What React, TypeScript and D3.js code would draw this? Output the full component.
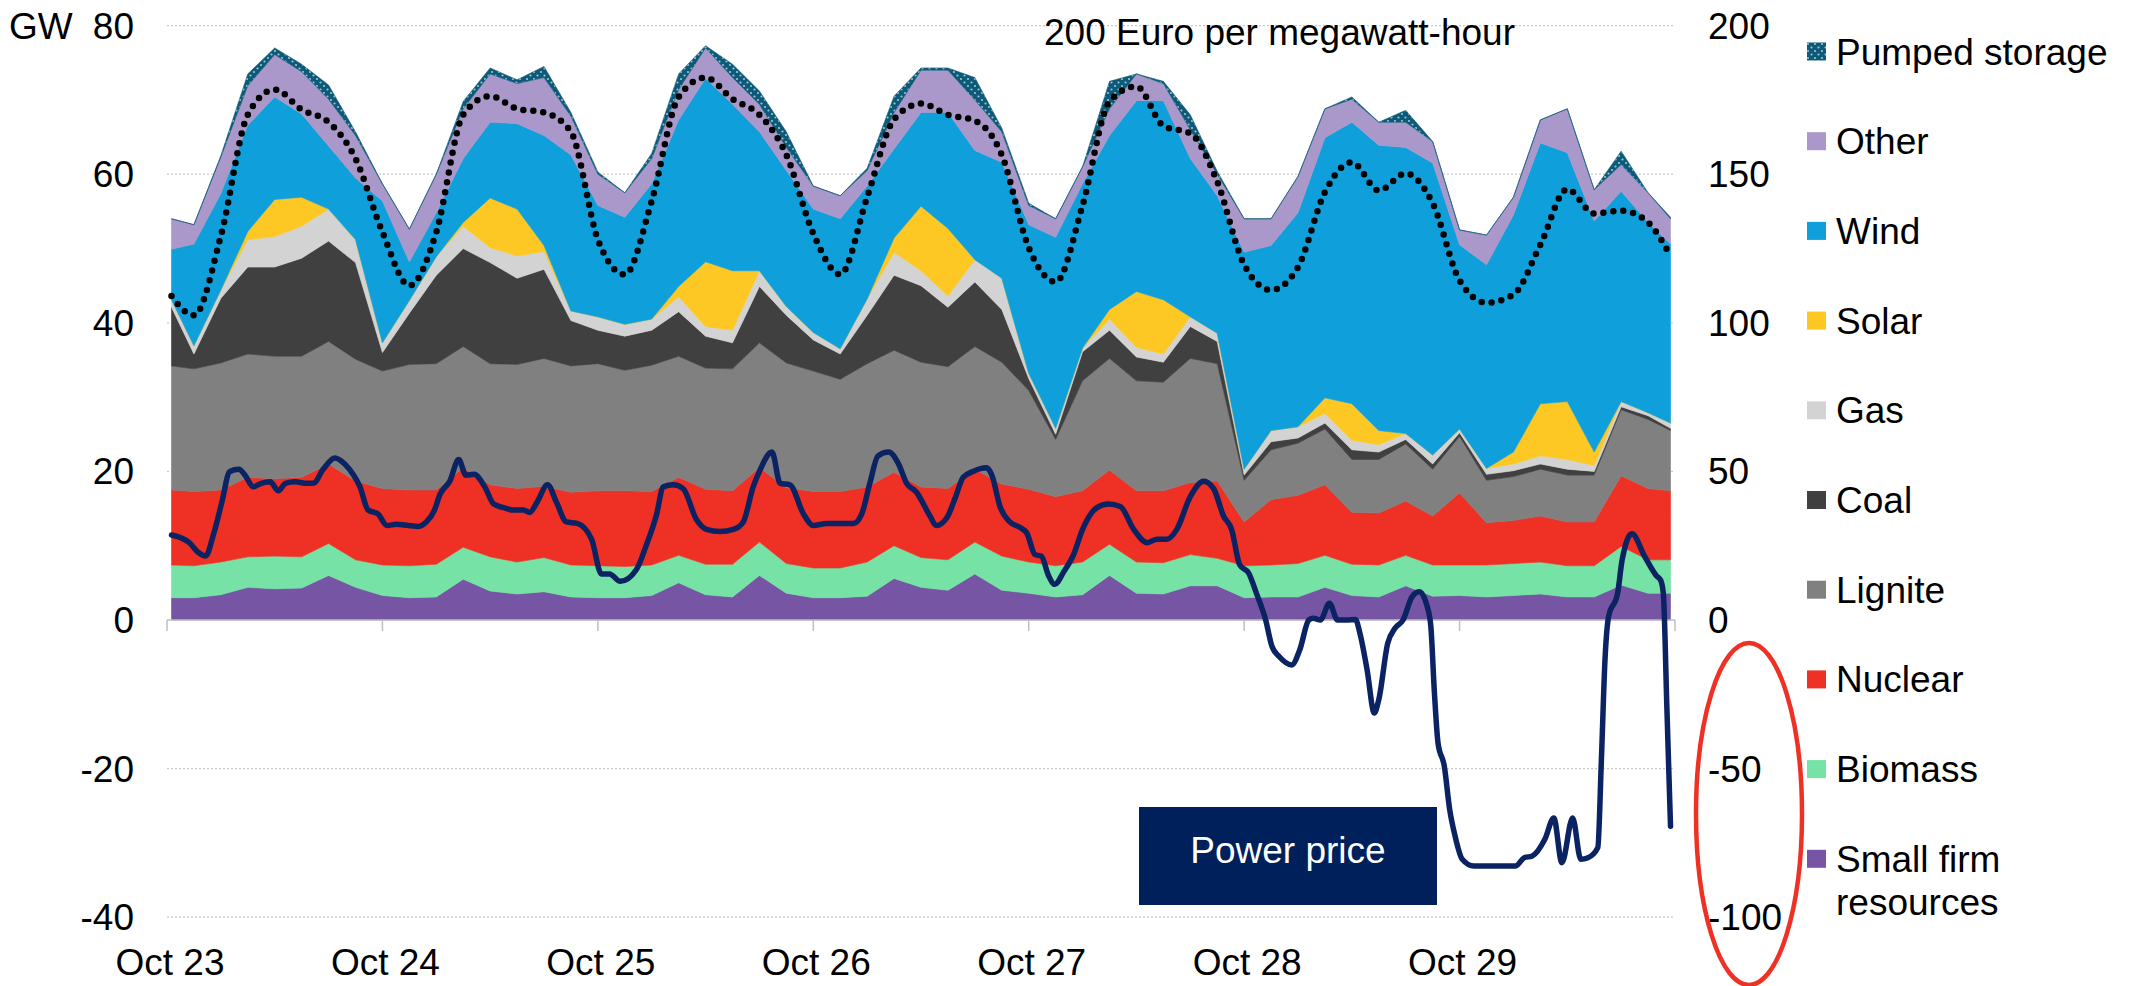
import React from 'react';
import * as d3 from 'd3';

// hours since Oct 23 00:00
const hours = [0.5,3,6,9,12,15,18,21,24,27,30,33,36,39,42,45,48,51,54,57,60,63,66,69,72,75,78,81,84,87,90,93,96,99,102,105,108,111,114,117,120,123,126,129,132,135,138,141,144,147,150,153,156,159,162,165,167.5];

const smallFirm = [3.0,3.0,3.4,4.4,4.2,4.3,6.0,4.4,3.3,3.0,3.1,5.5,3.9,3.5,3.8,3.1,3.0,3.0,3.3,5.0,3.4,3.1,6.0,3.6,3.0,3.0,3.2,5.6,4.4,4.0,6.2,4.0,3.6,3.1,3.4,6.0,3.6,3.5,4.6,4.6,3.0,3.1,3.1,4.4,3.3,3.1,4.6,3.2,3.3,3.1,3.3,3.5,3.1,3.1,4.7,3.6,3.6];
const biomass = [4.4,4.3,4.4,4.1,4.4,4.2,4.3,3.7,4.1,4.3,4.4,4.3,4.6,4.3,4.6,4.3,4.3,4.2,4.1,3.7,4.1,4.4,4.5,4.0,4.0,4.0,4.6,4.4,4.0,4.1,4.3,4.6,4.2,4.2,4.4,4.2,4.2,4.2,4.2,3.7,4.3,4.3,4.5,4.3,4.2,4.3,4.1,4.2,4.1,4.3,4.3,4.3,4.2,4.2,5.2,4.5,4.5];
const nuclear = [10.1,10.0,9.7,10.7,10.4,10.7,10.7,10.6,10.3,10.2,10.0,10.7,9.7,9.9,9.6,9.8,10.1,10.2,9.9,10.5,10.1,9.9,10.0,10.2,10.3,10.3,10.1,9.9,9.5,9.6,9.8,9.7,9.8,9.3,9.6,10.0,9.6,9.7,9.7,10.4,5.9,8.8,9.2,9.5,7.0,7.0,7.3,6.6,9.7,5.7,5.8,6.2,5.9,5.9,9.5,9.6,9.3];
const lignite = [16.7,16.5,17.1,16.6,16.5,16.3,16.5,16.4,15.8,16.9,17.0,16.3,16.3,16.7,17.2,17.0,17.1,16.2,17.0,16.3,16.3,16.4,16.8,16.8,16.2,15.1,16.6,16.4,16.8,16.4,16.5,16.4,13.3,7.7,14.8,15.0,14.8,14.6,16.7,15.8,5.6,6.7,7.0,7.5,7.1,7.2,7.7,6.3,7.6,5.7,5.9,6.3,6.3,6.3,8.9,9.3,8.1];
const coal = [7.9,2.0,8.7,11.7,12.0,13.2,13.5,13.0,2.5,6.9,11.9,13.2,13.6,11.6,12.0,6.1,4.5,4.6,4.7,6.0,4.3,3.5,7.6,6.4,4.2,3.4,6.5,10.1,10.3,8.0,8.7,7.1,1.6,0.7,3.9,3.8,3.2,2.7,4.3,3.0,0.7,1.1,0.7,0.8,1.3,1.0,0.6,0.7,0.5,0.8,0.8,0.7,0.8,0.5,0.4,0.5,0.3];
const gas = [1.0,1.1,1.1,3.7,4.1,4.3,4.3,3.1,1.3,1.7,2.5,3.0,2.0,3.0,2.4,1.3,1.8,1.6,1.5,2.0,1.3,1.7,2.1,1.2,1.0,0.7,2.2,3.1,2.0,1.5,3.0,4.2,0.7,0.8,0.5,1.5,1.3,1.1,1.3,1.1,0.8,1.5,1.5,1.3,1.3,1.0,0.8,1.2,0.5,0.8,0.9,1.1,1.3,0.8,0.7,0.4,0.7];
const solar = [0,0,0,1.1,5.0,3.9,0,0,0,0,0,0.5,6.7,6.3,0.8,0,0,0,0,1.4,8.7,8.0,0,0,0,0,0,1.9,8.7,9.1,0,0,0,0,0,1.3,7.5,7.3,0,0,0,0,0,2.1,4.9,1.9,0,0,0,0,1.6,7.0,7.8,1.8,0,0,0];
const wind = [6.8,13.7,13.0,14.3,13.8,11.2,8.5,8.3,19.1,5.2,5.9,8.6,10.2,11.5,14.8,21.0,15.0,14.4,18.2,22.4,24.7,22.4,18.7,18.3,16.6,17.5,15.2,12.0,12.6,15.6,14.7,15.6,20.0,25.7,22.1,23.4,25.7,26.8,21.3,18.5,29.2,24.9,28.8,35.0,37.9,38.4,38.5,39.3,24.8,27.4,31.9,35.1,33.5,31.1,28.3,25.6,24.1];
const other = [4.1,2.6,4.9,5.3,5.7,5.7,6.3,5.7,2.3,4.4,5.2,6.7,6.5,5.4,7.8,5.2,4.2,3.3,3.4,4.1,4.1,3.6,3.7,3.1,3.1,3.1,2.1,4.9,5.7,5.7,6.8,4.1,2.6,2.5,2.3,3.6,3.6,2.3,3.9,2.9,4.5,3.6,4.9,3.9,3.1,3.1,3.4,2.9,2.0,4.0,2.4,3.1,5.9,4.2,3.6,4.0,3.4];
const pumped = [0,0,0.2,1.6,0.9,1.0,1.9,0.5,0,0,0,1.0,0.8,0.5,1.5,0.5,0.3,0,0.7,2.1,0.3,1.8,1.8,2.1,0,0,0.3,2.2,0.3,0.3,3.0,0.5,0.3,0,0,3.7,0,0.3,2.0,0.4,0,0,0,0,0.3,0,1.6,0,0,0,0,0,0,0,1.8,0,0.2];

// dotted line (GW)
const dotted = [43.6,41.0,51.7,68,71.4,68.7,67,62.1,52.2,45,52.2,68,70.5,68.8,68.3,65.7,51.2,46.5,56.4,70.4,73,70.1,68,62.6,52,46.5,56.9,67.4,69.5,68,67.2,62.6,50.1,45.5,55.8,69.8,71.8,66.5,65.5,59,47.8,44.4,47.5,57.6,61.6,57.8,60.1,56.1,45.7,42.7,43.8,50.5,58,54.7,55.1,53.5,49];

// power price (EUR/MWh)
const priceHours = [0.5,2.5,3.5,4.3,5.2,6.1,7,8,8.7,9.6,10.5,11.5,12.4,13.2,14.3,15.4,16.3,17.4,18.7,19.8,20.8,21.5,22.4,23.5,24.5,25.6,26.9,28,28.9,29.8,30.4,31.5,32.5,33.3,34.2,35.4,36.4,37.5,38.6,39.7,40.4,41.2,42.4,43.4,44.5,45.7,47.3,48.4,49.3,50.5,52.3,53.4,54.5,55.3,56.4,57.5,59,60.1,61.6,63.1,64.2,65.3,66,67.4,68.3,69.4,70.9,72,73.5,75,76.5,77.4,78.3,79.2,80.4,81.5,82.4,83.5,85,85.7,86.9,87.8,88.7,89.8,91.3,91.9,92.8,93.9,95,95.8,96.7,97.4,98.2,98.9,99.9,101,102,103.6,104.9,106.2,107.7,109.2,110.3,111.4,112.5,114,115.5,116.6,117.7,118.6,119.5,120.5,121.4,122.4,123.1,123.9,125.3,126.2,127.2,127.7,128.5,129.5,130.4,131.4,132.4,132.9,133.7,134.5,135,136,136.8,137.7,138.7,139.5,140.4,140.8,141.2,141.6,142.3,142.9,143.5,144.3,145.6,147.9,150.2,151.2,152.1,153.5,154.5,155.4,156.6,157.5,158.3,159.4,159.8,160.2,160.6,161.6,162.1,163.2,164.6,165.9,166.4,166.7,167.1,167.5];
const priceValues = [28.6,26,22.7,21.5,29,39.5,50,50.7,48.7,44.8,46,46.5,43.5,46,46.5,46,46,50.7,54.5,52.5,48.7,44.8,37,35.7,31.8,32.2,31.8,31.5,33,37,42.2,46.7,54,48.7,49,44.8,39,37.8,37,37,36.2,39.5,45.5,39.5,33,32.5,27.2,15.5,15.5,13,17,25.2,35,44.8,45.5,44.2,33.7,30.5,29.8,30.5,33,44.8,50,56.5,46,45.5,35.7,31.8,32.5,32.5,32.5,35.7,46,55.2,56.5,52.5,46,43,35,31.8,34.5,41,48,50,51.2,48.7,38.2,33,31.2,29.2,22,21.5,15,12,16.2,22,30.5,37.8,39,38.2,30.5,26,27.2,27.2,30.5,41.5,46.7,44.2,35,30.5,18.6,15.8,8.7,0,-8.9,-12.3,-15.1,-10,0,0.6,0,5.6,0,0,0.2,-4.5,-16.8,-31.3,-26.8,-7.8,-2.8,0,7.8,9.5,4.5,-2.2,-24.6,-41.4,-49.2,-63.8,-72.7,-80.5,-82.8,-82.8,-82.8,-80,-79.4,-73.8,-66.6,-81.7,-66.6,-80.5,-80,-76.6,-47,-13.4,1.1,8.9,20,29,21.5,15,13.4,8.9,-30,-69.4];

const dayLabels = ['Oct 23','Oct 24','Oct 25','Oct 26','Oct 27','Oct 28','Oct 29'];
const leftTicks = [80,60,40,20,0,-20,-40];
const rightTicks = [200,150,100,50,0,-50,-100];

const keys = ['smallFirm','biomass','nuclear','lignite','coal','gas','solar','wind','other','pumped'];
const seriesData: Record<string, number[]> = {smallFirm, biomass, nuclear, lignite, coal, gas, solar, wind, other, pumped};
const colors: Record<string, string> = {
  smallFirm: '#7656a4', biomass: '#76e2a5', nuclear: '#ee3124', lignite: '#808080',
  coal: '#404040', gas: '#d3d3d3', solar: '#fdc823', wind: '#0f9fdb', other: '#a998c9', pumped: 'url(#pumpDots)'
};
const legendItems = [
  ['pumped','Pumped storage'],['other','Other'],['wind','Wind'],['solar','Solar'],['gas','Gas'],
  ['coal','Coal'],['lignite','Lignite'],['nuclear','Nuclear'],['biomass','Biomass'],['smallFirm','Small firm|resources']
];

export default function App() {
  const x = d3.scaleLinear().domain([0, 168]).range([167, 1675]);
  const y = d3.scaleLinear().domain([-40, 80]).range([917.2, 25.6]);
  const yR = d3.scaleLinear().domain([-100, 200]).range([917.2, 25.6]);

  const rows = hours.map((h, i) => {
    const r: any = { h };
    keys.forEach(k => { r[k] = seriesData[k][i]; });
    return r;
  });
  const stacked = d3.stack<any>().keys(keys)(rows);
  const area = d3.area<any>()
    .x(d => x(d.data.h))
    .y0(d => y(d[0]))
    .y1(d => y(d[1]));

  const dotLine = d3.line<number>()
    .x((d, i) => x(hours[i]))
    .y(d => y(d))
    .curve(d3.curveMonotoneX);

  const priceLine = d3.line<number>()
    .x((d, i) => x(priceHours[i]))
    .y(d => yR(d))
    .curve(d3.curveMonotoneX);

  const font = 'Liberation Sans, Arial, sans-serif';
  const fs = 37;

  return (
    <svg width={2132} height={986} style={{ position: 'absolute', left: 0, top: 0, background: '#fff' }}
      fontFamily={font} fontSize={fs}>
      <defs>
        <pattern id="pumpDots" width="7" height="7" patternUnits="userSpaceOnUse">
          <rect width="7" height="7" fill="#0c5a78" />
          <circle cx="2" cy="2" r="1.1" fill="#9cc3d3" />
          <circle cx="5.5" cy="5.5" r="1.1" fill="#9cc3d3" />
        </pattern>
      </defs>
      <rect x={0} y={0} width={2132} height={986} fill="#fff" />

      {leftTicks.filter(v => v !== 0).map(v => (
        <line key={'g' + v} x1={x(0)} x2={x(168)} y1={y(v)} y2={y(v)}
          stroke="#c9c9c9" strokeWidth={1.2} strokeDasharray="2 2" />
      ))}

      {stacked.map(s => (
        <path key={s.key} d={area(s) || ''} fill={colors[s.key]}
          stroke={s.key === 'pumped' ? '#0c5a78' : colors[s.key]} strokeWidth={0.6} />
      ))}

      <line x1={x(0)} x2={x(168)} y1={y(0)} y2={y(0)} stroke="#bfbfbf" strokeWidth={1.5} />
      {d3.range(8).map(i => (
        <line key={'t' + i} x1={x(i * 24)} x2={x(i * 24)} y1={y(0)} y2={y(0) + 11} stroke="#bfbfbf" strokeWidth={1.5} />
      ))}

      <path d={dotLine(dotted) || ''} fill="none" stroke="#000" strokeWidth={6.5}
        strokeDasharray="0 10" strokeLinecap="round" />

      <path d={priceLine(priceValues) || ''} fill="none" stroke="#0b2263" strokeWidth={5.5}
        strokeLinejoin="round" strokeLinecap="round" />

      {leftTicks.map(v => (
        <text key={'l' + v} x={134} y={y(v) + 13} textAnchor="end" fill="#000">{v}</text>
      ))}
      <text x={9} y={y(80) + 13} fill="#000">GW</text>
      {rightTicks.map(v => (
        <text key={'r' + v} x={1708} y={yR(v) + 13} textAnchor="start" fill="#000">{v}</text>
      ))}
      {dayLabels.map((d, i) => (
        <text key={d} x={x(i * 24) + 3} y={975} textAnchor="middle" fill="#000">{d}</text>
      ))}
      <text x={1044} y={45} fill="#000">200 Euro per megawatt-hour</text>

      <rect x={1139} y={807} width={298} height={98} fill="#00205b" />
      <text x={1288} y={863} textAnchor="middle" fill="#fff">Power price</text>

      <ellipse cx={1749} cy={814} rx={53} ry={171} fill="none" stroke="#ee3124" strokeWidth={4.5} />

      {legendItems.map(([k, label], i) => {
        const cy = 51.5 + 89.7 * i;
        const lines = label.split('|');
        return (
          <g key={k}>
            <rect x={1807} y={cy - 9} width={19} height={18} fill={colors[k]} />
            {lines.map((t, j) => (
              <text key={j} x={1836} y={cy + 13 + j * 43} fill="#000">{t}</text>
            ))}
          </g>
        );
      })}
    </svg>
  );
}
